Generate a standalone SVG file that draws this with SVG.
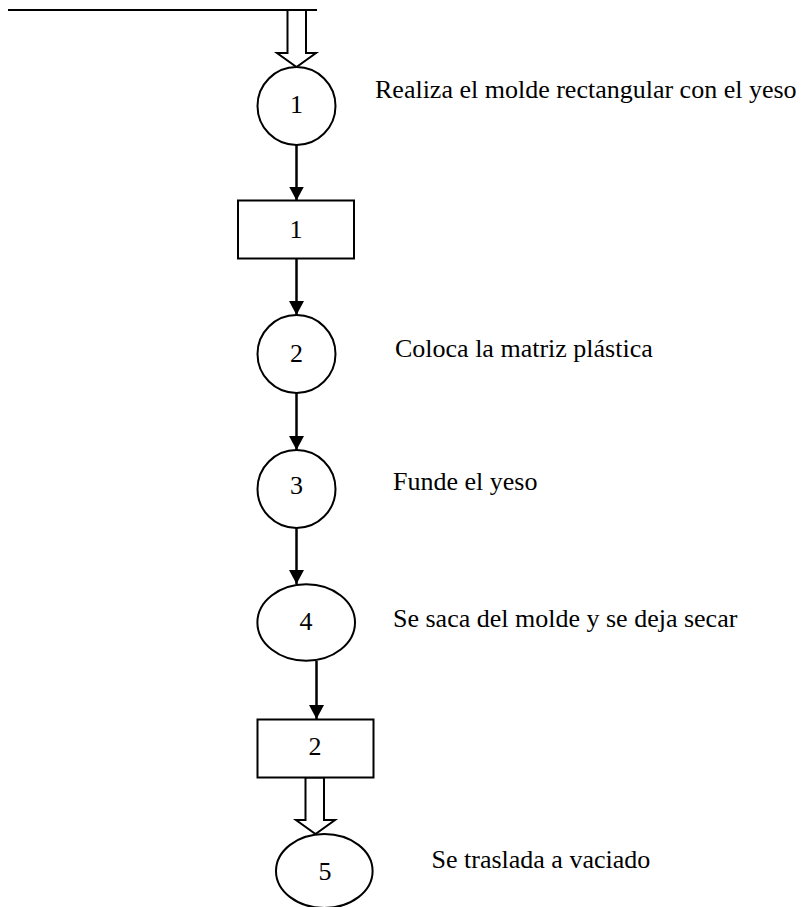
<svg xmlns="http://www.w3.org/2000/svg" width="810" height="907" viewBox="0 0 810 907">
  <style>
    .shape { fill: #ffffff; stroke: #000000; stroke-width: 2; }
    .hollow { fill: #ffffff; stroke: #000000; stroke-width: 2; stroke-linejoin: miter; }
    .flow { stroke: #000000; stroke-width: 2.5; fill: none; }
    .num { font-family: "Liberation Serif", "Times New Roman", serif; font-size: 26px; fill: #000000; text-anchor: middle; }
    .label { font-family: "Liberation Serif", "Times New Roman", serif; font-size: 26px; fill: #000000; }
  </style>
  <defs>
    <marker id="arrow" viewBox="0 0 14 15" refX="14" refY="7.5" markerWidth="14" markerHeight="15" markerUnits="userSpaceOnUse" orient="auto">
      <path d="M0,0 L14,7.5 L0,15 Z" fill="#000000"/>
    </marker>
  </defs>

  <rect width="810" height="907" fill="#ffffff"/>

  <!-- incoming line and block arrows -->
  <g id="entry">
    <line x1="8" y1="10" x2="317" y2="10" stroke="#000000" stroke-width="2"/>
    <polygon class="hollow" points="287.5,10 287.5,53 277,53 296.5,67 316,53 306,53 306,10"/>
  </g>

  <!-- connectors -->
  <g id="connectors">
    <line class="flow" x1="296.5" y1="145" x2="296.5" y2="200.5" marker-end="url(#arrow)"/>
    <line class="flow" x1="296.5" y1="258.5" x2="296.5" y2="315" marker-end="url(#arrow)"/>
    <line class="flow" x1="296.5" y1="393" x2="296.5" y2="450" marker-end="url(#arrow)"/>
    <line class="flow" x1="296.5" y1="527.5" x2="296.5" y2="584" marker-end="url(#arrow)"/>
    <line class="flow" x1="316.5" y1="661" x2="316.5" y2="719" marker-end="url(#arrow)"/>
    <polygon class="hollow" points="305.5,777.5 305.5,820 296,820 315.5,834 335,820 324,820 324,777.5"/>
  </g>

  <g id="op1">
    <circle class="shape" cx="296.5" cy="106" r="39"/>
    <text class="num" x="296.5" y="113">1</text>
    <text class="label" x="375" y="98">Realiza el molde rectangular con el yeso</text>
  </g>

  <g id="insp1">
    <rect class="shape" x="238" y="200.5" width="116" height="58"/>
    <text class="num" x="296" y="237.5">1</text>
  </g>

  <g id="op2">
    <circle class="shape" cx="296.5" cy="354" r="39"/>
    <text class="num" x="296.5" y="362">2</text>
    <text class="label" x="395" y="357">Coloca la matriz plástica</text>
  </g>

  <g id="op3">
    <circle class="shape" cx="296.5" cy="489" r="39"/>
    <text class="num" x="296.5" y="494">3</text>
    <text class="label" x="393" y="490">Funde el yeso</text>
  </g>

  <g id="op4">
    <ellipse class="shape" cx="306.2" cy="622.5" rx="48.8" ry="38.3"/>
    <text class="num" x="306" y="629.5">4</text>
    <text class="label" x="393" y="626.5">Se saca del molde y se deja secar</text>
  </g>

  <g id="insp2">
    <rect class="shape" x="257.5" y="719.5" width="116" height="58"/>
    <text class="num" x="315" y="755">2</text>
  </g>

  <g id="op5">
    <ellipse class="shape" cx="324.3" cy="871" rx="48.3" ry="37"/>
    <text class="num" x="325" y="879.5">5</text>
    <text class="label" x="431.5" y="867.5">Se traslada a vaciado</text>
  </g>
</svg>
